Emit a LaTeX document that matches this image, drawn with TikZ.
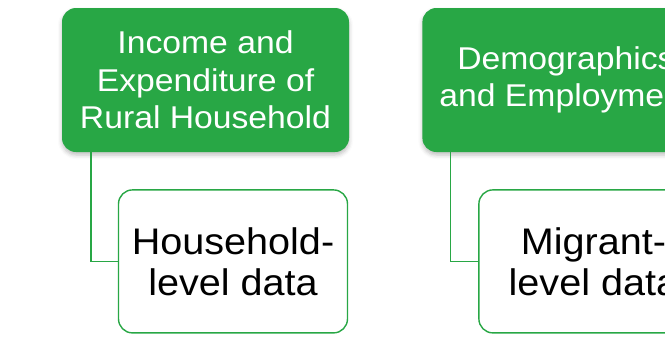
\documentclass[tikz,border=0pt]{standalone}
\usepackage{fontspec}
\setmainfont{Liberation Sans}[FakeStretch=1.07]
\usetikzlibrary{positioning,shadows.blur}
\definecolor{datagreen}{HTML}{28A745}

\begin{document}
\begin{tikzpicture}[
    x=1pt, y=-1pt,
    node distance=36pt and 73pt,
    topic/.style={rectangle, fill=datagreen, rounded corners=14pt, minimum width=287pt, minimum height=144pt, align=center, text=white, font=\fontsize{31.5}{37.5}\selectfont,
        blur shadow={shadow xshift=0pt, shadow yshift=-3pt, shadow blur radius=4pt, shadow opacity=25}},
    level/.style={rectangle, draw=datagreen, line width=1.4pt, fill=white, rounded corners=14pt, minimum width=229pt, minimum height=143pt, align=center, font=\fontsize{37}{41}\selectfont},
    link/.style={draw=datagreen, line width=1.4pt}
]
\useasboundingbox (0,0) rectangle (665,338);
\clip (0,0) rectangle (665,338);

\node[topic] (income) at (205.5,80) {Income and\\Expenditure of\\Rural Household};
\node[topic, right=73pt of income] (demog) {Demographics\\and Employment};
\node[level, below=37pt of income.south east, anchor=north east, xshift=-1pt] (hhdata) {Household-\\level data};
\node[level, below=37pt of demog.south east, anchor=north east, xshift=-1pt] (migdata) {Migrant-\\level data};

\draw[link] ([xshift=29pt]income.south west) |- (hhdata.west);
\draw[link] ([xshift=28pt]demog.south west) |- (migdata.west);
\end{tikzpicture}
\end{document}
